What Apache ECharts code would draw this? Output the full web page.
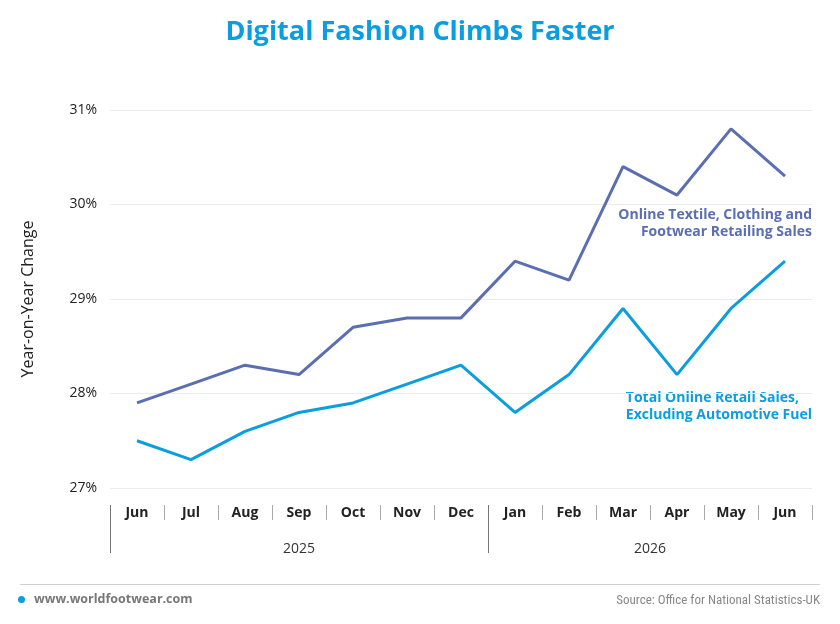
<!DOCTYPE html>
<html><head><meta charset="utf-8">
<script src="https://cdn.jsdelivr.net/npm/echarts@6/dist/echarts.min.js"></script>
<style>html,body{margin:0;padding:0;background:#fff}#c{width:840px;height:624px}</style>
</head><body><div id="c"></div>
<script>
const months = ['Jun','Jul','Aug','Sep','Oct','Nov','Dec','Jan','Feb','Mar','Apr','May','Jun'];
const yearLabels = ['2025', '2026'];
const yearCenters = [3, 9.5];
const yearBoundaries = [-0.5, 6.5];
const textileSales = [27.9, 28.1, 28.3, 28.2, 28.7, 28.8, 28.8, 29.4, 29.2, 30.4, 30.1, 30.8, 30.3];
const totalSales = [27.5, 27.3, 27.6, 27.8, 27.9, 28.1, 28.3, 27.8, 28.2, 28.9, 28.2, 28.9, 29.4];
const seriesNames = ['Online Textile, Clothing and\nFootwear Retailing Sales', 'Total Online Retail Sales,\nExcluding Automotive Fuel'];
const yTicks = {min: 27, max: 31, interval: 1};

const C1 = '#5a6eb1', C2 = '#0a9de0';
const FF = '"Open Sans", Lato, sans-serif';
const chart = echarts.init(document.getElementById('c'), null, {renderer: 'canvas'});
chart.setOption({
  animation: false,
  textStyle: {fontFamily: FF},
  title: {text: 'Digital Fashion Climbs Faster', left: 'center', top: 14,
    textStyle: {color: '#0a9de0', fontSize: 27, fontWeight: 'bold', fontFamily: FF}},
  grid: {left: 110, right: 28, top: 110, bottom: 136},
  xAxis: [
    {type: 'category', position: 'bottom', data: months, boundaryGap: true, offset: 17,
     axisLine: {show: false},
     axisTick: {show: true, length: 15, lineStyle: {color: '#aaa'}},
     axisLabel: {margin: 1, color: '#222', fontSize: 14, fontWeight: 'bold', fontFamily: FF}},
    {type: 'value', position: 'bottom', min: -0.5, max: 12.5, offset: 17,
     axisLine: {show: false}, splitLine: {show: false},
     axisTick: {show: true, length: 48, lineStyle: {color: '#777'}, customValues: yearBoundaries},
     axisLabel: {margin: 37, color: '#333', fontSize: 14, fontFamily: FF, customValues: yearCenters,
       formatter: function (v) { const i = yearCenters.indexOf(v); return i >= 0 ? yearLabels[i] : ''; }}}
  ],
  yAxis: {type: 'value', min: yTicks.min, max: yTicks.max, interval: yTicks.interval,
    name: 'Year-on-Year Change', nameLocation: 'middle', nameGap: 74, nameRotate: 90,
    nameTextStyle: {color: '#222', fontSize: 16, fontFamily: FF},
    axisLine: {show: false}, axisTick: {show: false},
    axisLabel: {margin: 13, color: '#222', fontSize: 14, fontFamily: FF, formatter: '{value}%'},
    splitLine: {lineStyle: {color: '#ececec', width: 1}}},
  series: [
    {name: seriesNames[0], type: 'line', data: textileSales, xAxisIndex: 0, symbol: 'none',
     lineStyle: {color: C1, width: 3}, itemStyle: {color: C1},
     endLabel: {show: true, formatter: seriesNames[0], align: 'right', verticalAlign: 'top',
       offset: [19, 30], color: C1, fontSize: 14, fontWeight: 'bold', lineHeight: 17, fontFamily: FF}},
    {name: seriesNames[1], type: 'line', data: totalSales, xAxisIndex: 0, symbol: 'none',
     lineStyle: {color: C2, width: 3}, itemStyle: {color: C2}}
  ],
  graphic: [
    {type: 'text', right: 28, top: 390, style: {text: seriesNames[1], align: 'right', fill: C2,
      font: 'bold 14px ' + FF, lineHeight: 17}},
    {type: 'rect', left: 20, top: 584, shape: {width: 800, height: 1}, style: {fill: '#cfcfcf'}},
    {type: 'circle', left: 18, top: 596, shape: {r: 3.5}, style: {fill: C2}},
    {type: 'text', left: 34, top: 593, style: {text: 'www.worldfootwear.com', fill: '#777', font: 'bold 12.5px ' + FF}},
    {type: 'text', right: 20, top: 594, style: {text: 'Source: Office for National Statistics-UK', fill: '#888', font: '13px "Roboto Condensed", Roboto, sans-serif'}}
  ]
});
</script></body></html>
